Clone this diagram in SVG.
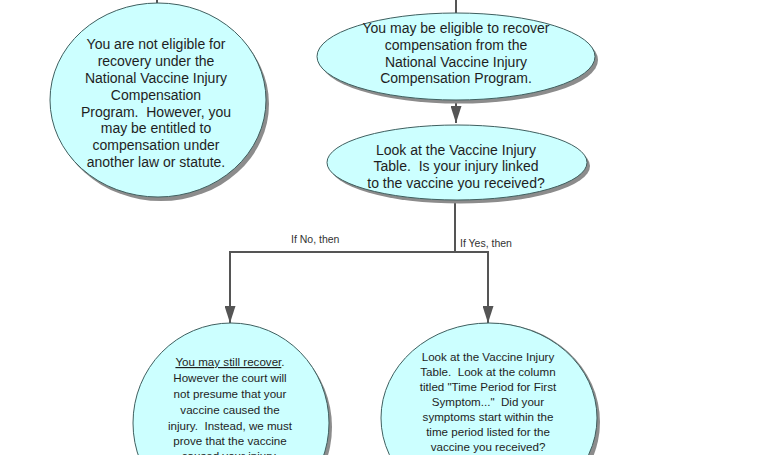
<svg xmlns="http://www.w3.org/2000/svg" width="768" height="455" viewBox="0 0 768 455">
<defs>
<style>
.sh{fill:#8c8c8c;}
.nd{fill:#ccffff;stroke:#3f5f5f;stroke-width:1;}
.t{font-family:"Liberation Sans",Arial,sans-serif;fill:#1e1e1e;text-anchor:middle;white-space:pre;}
.big{font-size:14px;}
.small{font-size:11.6px;}
.lbl{font-family:"Liberation Sans",Arial,sans-serif;font-size:10.5px;fill:#333;}
.ln{fill:none;stroke:#555;stroke-width:2;}
</style>
<marker id="ah" markerWidth="17" markerHeight="11" refX="17" refY="5.5" orient="auto" markerUnits="userSpaceOnUse" viewBox="0 0 17 11">
<path d="M0,0 L17,5.5 L0,11 Z" fill="#555"/>
</marker>
</defs>
<rect width="768" height="455" fill="#ffffff"/>
<g id="connectors">
<line class="ln" x1="157" y1="-10" x2="157" y2="3"/>
<line class="ln" x1="456" y1="-10" x2="456" y2="13"/>
<line class="ln" x1="456" y1="100" x2="456" y2="123" marker-end="url(#ah)"/>
<polyline class="ln" points="455,200 455,252 230,252 230,323" marker-end="url(#ah)"/>
<polyline class="ln" points="455,252 488,252 488,323" marker-end="url(#ah)"/>
<text class="lbl" x="291" y="243">If No, then</text>
<text class="lbl" x="460" y="247">If Yes, then</text>
</g>
<g id="node-not-eligible">
<ellipse class="sh" cx="161" cy="104" rx="108" ry="97"/>
<ellipse class="nd" cx="158" cy="100" rx="108" ry="97"/>
<text class="t big" xml:space="preserve"><tspan x="156" y="49">You are not eligible for</tspan><tspan x="156" y="66">recovery under the</tspan><tspan x="156" y="83">National Vaccine Injury</tspan><tspan x="156" y="100">Compensation</tspan><tspan x="156" y="117">Program.  However, you</tspan><tspan x="156" y="133">may be entitled to</tspan><tspan x="156" y="150">compensation under</tspan><tspan x="156" y="167">another law or statute.</tspan></text>
</g>
<g id="node-may-be-eligible">
<ellipse class="sh" cx="459" cy="60" rx="139" ry="43.5"/>
<ellipse class="nd" cx="456" cy="56.5" rx="139" ry="43.5"/>
<text class="t big" xml:space="preserve"><tspan x="456" y="33">You may be eligible to recover</tspan><tspan x="456" y="50">compensation from the</tspan><tspan x="456" y="67">National Vaccine Injury</tspan><tspan x="456" y="83">Compensation Program.</tspan></text>
</g>
<g id="node-look-table">
<ellipse class="sh" cx="460" cy="166" rx="130" ry="37.5"/>
<ellipse class="nd" cx="457" cy="162.5" rx="130" ry="37.5"/>
<text class="t big" xml:space="preserve"><tspan x="456" y="155">Look at the Vaccine Injury</tspan><tspan x="456" y="171">Table.  Is your injury linked</tspan><tspan x="456" y="188">to the vaccine you received?</tspan></text>
</g>
<g id="node-still-recover">
<ellipse class="sh" cx="234" cy="427" rx="98" ry="100"/>
<ellipse class="nd" cx="231" cy="423" rx="98" ry="100"/>
<text class="t small" xml:space="preserve"><tspan x="230" y="366" text-decoration="underline">You may still recover</tspan><tspan>.</tspan><tspan x="230" y="382">However the court will</tspan><tspan x="230" y="398">not presume that your</tspan><tspan x="230" y="414">vaccine caused the</tspan><tspan x="230" y="430">injury.  Instead, we must</tspan><tspan x="230" y="445">prove that the vaccine</tspan><tspan x="230" y="460">caused your injury.</tspan></text>
</g>
<g id="node-time-period">
<ellipse class="sh" cx="492" cy="422" rx="108" ry="99"/>
<ellipse class="nd" cx="489" cy="418" rx="108" ry="95"/>
<text class="t small" xml:space="preserve"><tspan x="488" y="361">Look at the Vaccine Injury</tspan><tspan x="488" y="376">Table.  Look at the column</tspan><tspan x="488" y="391">titled "Time Period for First</tspan><tspan x="488" y="406">Symptom..."  Did your</tspan><tspan x="488" y="421">symptoms start within the</tspan><tspan x="488" y="436">time period listed for the</tspan><tspan x="488" y="451">vaccine you received?</tspan></text>
</g>
</svg>
